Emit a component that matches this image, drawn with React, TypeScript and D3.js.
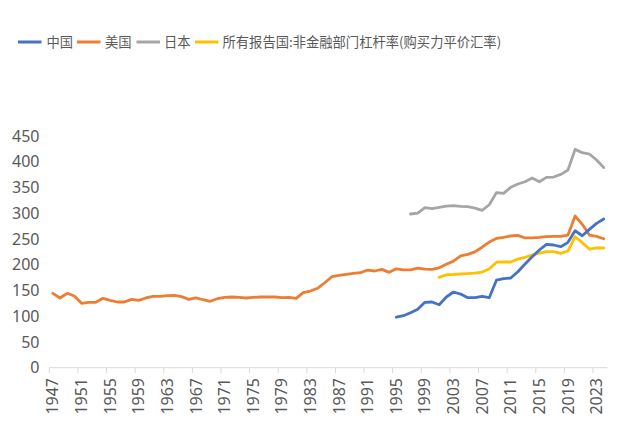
import React from "react";
import * as d3 from "d3";

const years: number[] = d3.range(1947, 2025);
const yTicks: number[] = [0, 50, 100, 150, 200, 250, 300, 350, 400, 450];

const usStart = 1947;
const usValues: number[] = [
  144.5, 135.4, 144.5, 139.3, 125, 127, 127, 134.7, 130.8, 127.6,
  127.6, 132.8, 130.8, 135.4, 138.6, 138.6, 139.8, 140.4, 138, 132.8,
  135.4, 132, 129, 134, 136.5, 137.3, 136.5, 135.4, 136.7, 137.3,
  137.3, 137.3, 136, 136.7, 134.7, 145.7, 148.9, 154.2, 165, 176.7,
  179.4, 181.3, 183.3, 184.5, 189.7, 187.8, 191, 185.2, 192, 190,
  190, 193.5, 191.5, 191, 194, 201, 207, 217, 220, 225,
  234, 244, 251, 253, 255.8, 257, 252, 252, 253, 254.4,
  255, 255, 257.7, 294.6, 278.5, 257.7, 255, 250.5,
];

const cnStart = 1995;
const cnValues: number[] = [
  98, 101, 106.8, 113.4, 127, 127.6, 122.3, 137.3, 147, 143,
  136, 136, 138.6, 136, 170, 172.8, 174.2, 186.4, 201.4, 215.6,
  228.6, 239.6, 238.3, 235, 243.5, 266, 256.3, 268.7, 280.4, 288.8,
];

const jpStart = 1997;
const jpValues: number[] = [
  298.5, 300.4, 310.7, 308.8, 311.5, 314, 314.7, 313.4, 312.7, 310,
  305.7, 316.5, 340, 338.6, 350.3, 356.7, 361.2, 368.4, 361.2, 369.7,
  370.3, 375.5, 384, 424, 417.5, 415, 403.4, 389,
];

const allStart = 2001;
const allValues: number[] = [
  175.5, 180.6, 181, 182.3, 182.9, 183.6, 185.8, 191.7, 205, 205.3,
  205.3, 211, 214.4, 218.9, 222.7, 225.3, 225.3, 222, 226.6, 254.4,
  242.8, 230.5, 232.5, 232.5,
];

const seriesNames: string[] = ["中国", "美国", "日本", "所有报告国:非金融部门杠杆率(购买力平价汇率)"];
const seriesColors: string[] = ["#4472C4", "#ED7D31", "#A5A5A5", "#FFC000"];

export default function App() {
  const W = 623;
  const H = 438;
  const x = d3.scaleBand<number>().domain(years).range([49.3, 607.3]).paddingInner(0).paddingOuter(0);
  const y = d3.scaleLinear().domain([0, 450]).range([367.7, 136]);
  const cx = (yr: number) => (x(yr) as number) + x.bandwidth() / 2;

  const mk = (start: number, vals: number[]) =>
    vals.map((v, i) => ({ yr: start + i, v }));
  const series = [
    mk(cnStart, cnValues),
    mk(usStart, usValues),
    mk(jpStart, jpValues),
    mk(allStart, allValues),
  ];
  const drawOrder = [1, 2, 3, 0];
  const line = d3
    .line<{ yr: number; v: number }>()
    .x((d) => cx(d.yr))
    .y((d) => y(d.v));

  const labelYears = years.filter((yr) => (yr - 1947) % 4 === 0);
  const font = "'Noto Sans', 'Noto Sans CJK SC', sans-serif";
  const textColor = "#595959";

  const legendX = [18, 77, 136.5, 195];
  const legendTextX = [46.5, 105, 164, 222.5];

  return (
    <svg
      width={W}
      height={H}
      style={{ position: "absolute", left: 0, top: 0, background: "#fff" }}
      fontFamily={font}
    >
      {seriesNames.map((n, i) => (
        <g key={n}>
          <line
            x1={legendX[i]}
            x2={legendX[i] + 23.5}
            y1={42}
            y2={42}
            stroke={seriesColors[i]}
            strokeWidth={3}
          />
          <text
            x={legendTextX[i]}
            y={42}
            dy="0.36em"
            fontSize={13.3}
            fill={textColor}
            fontFamily="'Noto Sans CJK SC', 'Noto Sans', sans-serif"
          >
            {n}
          </text>
        </g>
      ))}

      {yTicks.map((t) => (
        <text
          key={t}
          x={39.5}
          y={y(t)}
          dy="0.35em"
          textAnchor="end"
          fontSize={16}
          fill={textColor}
        >
          {t}
        </text>
      ))}

      <line x1={49.3} x2={607.3} y1={367.7} y2={367.7} stroke="#D9D9D9" strokeWidth={1} />
      {labelYears.map((yr) => (
        <line
          key={"t" + yr}
          x1={x(yr) as number}
          x2={x(yr) as number}
          y1={367.7}
          y2={373}
          stroke="#D9D9D9"
          strokeWidth={1}
        />
      ))}
      {labelYears.map((yr) => (
        <text
          key={"l" + yr}
          transform={`translate(${cx(yr)},378) rotate(-90)`}
          dy="0.35em"
          textAnchor="end"
          fontSize={16}
          fill={textColor}
        >
          {yr}
        </text>
      ))}

      {drawOrder.map((i) => (
        <path
          key={"s" + i}
          d={line(series[i]) || ""}
          fill="none"
          stroke={seriesColors[i]}
          strokeWidth={2.8}
          strokeLinejoin="round"
          strokeLinecap="round"
        />
      ))}
    </svg>
  );
}
